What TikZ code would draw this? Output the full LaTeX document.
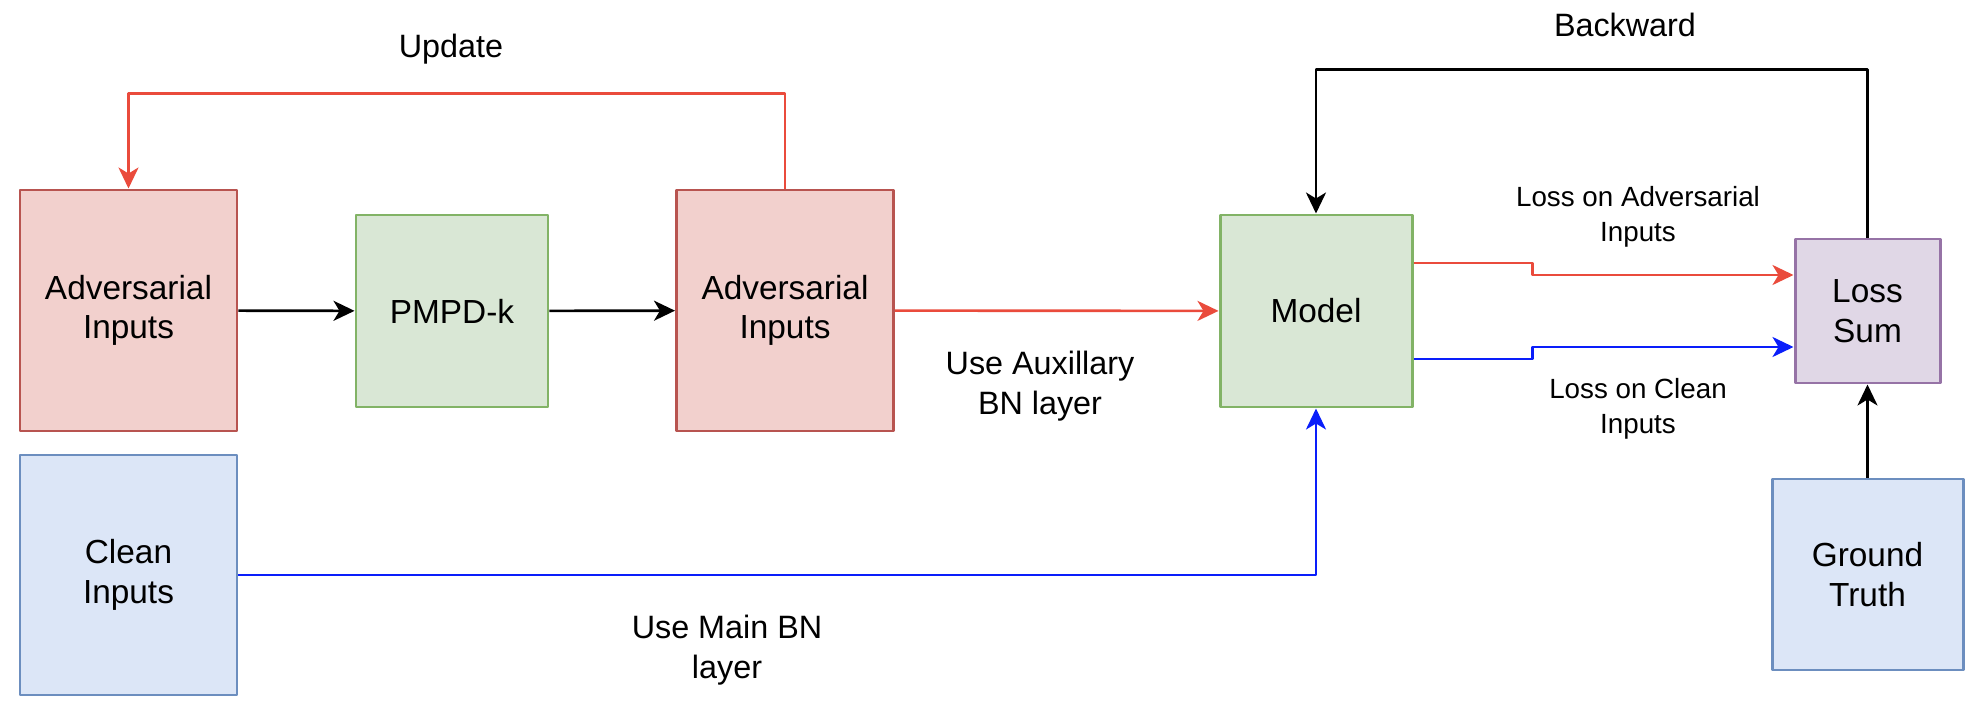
\documentclass[tikz,border=0pt]{standalone}
\usepackage{fontspec}
\setmainfont{Liberation Sans}
\usetikzlibrary{arrows.meta}
\definecolor{redfill}{HTML}{F2D0CD}
\definecolor{reddraw}{HTML}{B85450}
\definecolor{greenfill}{HTML}{D9E7D5}
\definecolor{greendraw}{HTML}{82B366}
\definecolor{bluefill}{HTML}{DCE6F7}
\definecolor{bluedraw}{HTML}{6C8EBF}
\definecolor{purplefill}{HTML}{E0D7E6}
\definecolor{purpledraw}{HTML}{9673A6}
\definecolor{redline}{HTML}{EA4B3C}
\definecolor{blueline}{HTML}{0A1EFA}
\tikzset{
  box/.style={draw,line width=0.85pt,align=center,inner sep=0pt,
    font=\fontsize{9.5}{11.3}\selectfont},
  advbox/.style={box,fill=redfill,draw=reddraw,minimum width=2.17cm,minimum height=2.41cm},
  netbox/.style={box,fill=greenfill,draw=greendraw,minimum width=1.92cm,minimum height=1.92cm},
  cleanbox/.style={box,fill=bluefill,draw=bluedraw},
  sumbox/.style={box,fill=purplefill,draw=purpledraw,minimum width=1.45cm,minimum height=1.44cm},
  flow/.style={line width=0.75pt,-{Stealth[length=0.21cm,width=0.2cm,inset=0.06cm]}},
  lbl/.style={align=center,font=\fontsize{9.2}{11.2}\selectfont},
  smalllbl/.style={align=center,font=\fontsize{7.9}{9.9}\selectfont},
}
\begin{document}
\begin{tikzpicture}[line join=round]
\useasboundingbox (0,0) rectangle (19.76,-7.10);
% boxes
\node[advbox] (adv1) at (1.285,-3.105) {Adversarial\\Inputs};
\node[netbox] (pmpd) at (4.52,-3.11) {PMPD-k};
\node[advbox] (adv2) at (7.85,-3.105) {Adversarial\\Inputs};
\node[cleanbox,minimum width=2.17cm,minimum height=2.40cm] (clean) at (1.285,-5.75) {Clean\\Inputs};
\node[netbox] (model) at (13.16,-3.11) {Model};
\node[sumbox] (loss) at (18.675,-3.11) {Loss\\Sum};
\node[cleanbox,minimum width=1.91cm,minimum height=1.91cm] (truth) at (18.675,-5.745) {Ground\\Truth};
% labels
\node[lbl] (update) at (4.51,-0.49) {Update};
\node[lbl] (backward) at (16.25,-0.25) {Backward};
\node[lbl] (auxbn) at (10.40,-3.86) {Use Auxillary\\BN layer};
\node[lbl] (mainbn) at (7.27,-6.50) {Use Main BN\\layer};
\node[smalllbl] (advloss) at (16.38,-2.165) {Loss on Adversarial\\Inputs};
\node[smalllbl] (cleanloss) at (16.38,-4.09) {Loss on Clean\\Inputs};
% connectors
\draw[flow] (adv1) -- (pmpd);
\draw[flow] (pmpd) -- (adv2);
\draw[flow,redline] (adv2) -- (model);
\draw[flow,redline] (adv2.north) -- ++(0,0.95) -| (adv1.north);
\draw[flow,blueline] (clean.east) -| (model.south);
\draw[flow,redline] ([yshift=0.48cm]model.east) -- ++(1.19,0) |- ([yshift=0.36cm]loss.west);
\draw[flow,blueline] ([yshift=-0.48cm]model.east) -- ++(1.19,0) |- ([yshift=-0.36cm]loss.west);
\draw[flow] (loss.north) -- ++(0,1.68) -| (model.north);
\draw[flow] (truth) -- (loss);
\end{tikzpicture}
\end{document}
